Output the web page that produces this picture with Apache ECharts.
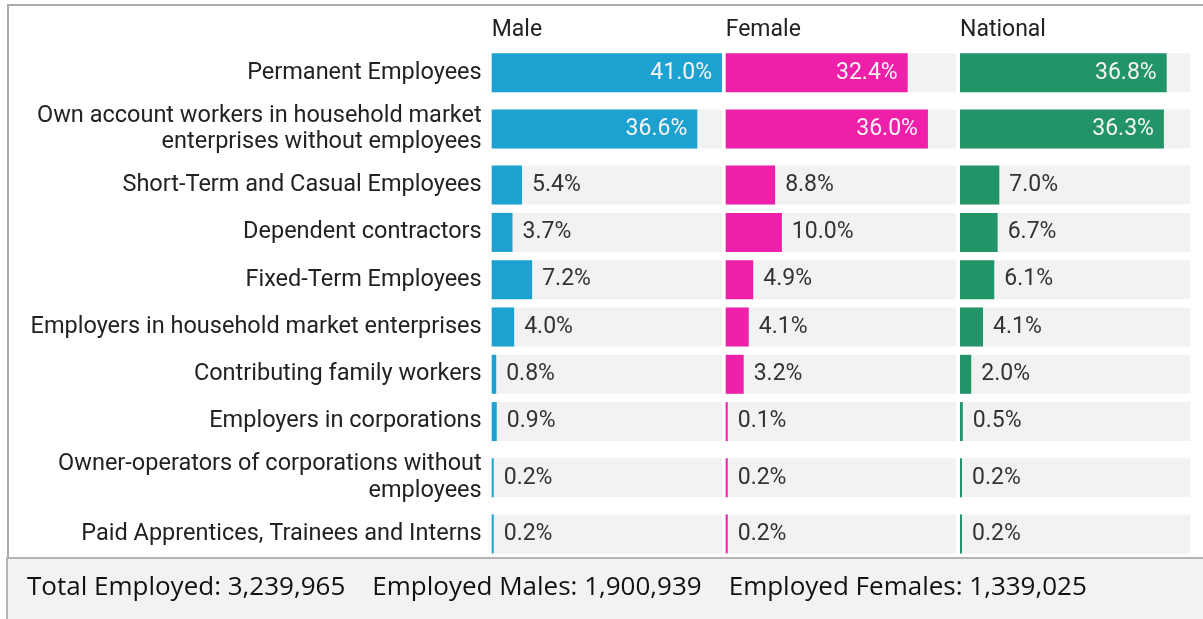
<!DOCTYPE html>
<html>
<head>
<meta charset="utf-8">
<script src="https://cdn.jsdelivr.net/npm/echarts@6/dist/echarts.min.js"></script>
<style>
html,body{margin:0;padding:0;background:#fff;}
#chart{width:1203px;height:619px;}
</style>
</head>
<body>
<div id="chart"></div>
<script>
const categories = [
  'Permanent Employees',
  'Own account workers in household market\nenterprises without employees',
  'Short-Term and Casual Employees',
  'Dependent contractors',
  'Fixed-Term Employees',
  'Employers in household market enterprises',
  'Contributing family workers',
  'Employers in corporations',
  'Owner-operators of corporations without\nemployees',
  'Paid Apprentices, Trainees and Interns'
];
const maleValues = [41.0, 36.6, 5.4, 3.7, 7.2, 4.0, 0.8, 0.9, 0.2, 0.2];
const femaleValues = [32.4, 36.0, 8.8, 10.0, 4.9, 4.1, 3.2, 0.1, 0.2, 0.2];
const nationalValues = [36.8, 36.3, 7.0, 6.7, 6.1, 4.1, 2.0, 0.5, 0.2, 0.2];
const panelNames = ['Male', 'Female', 'National'];
const footerLabels = ['Total Employed', 'Employed Males', 'Employed Females'];
const footerValues = ['3,239,965', '1,900,939', '1,339,025'];
const axisMax = 41;

const panelValues = [maleValues, femaleValues, nationalValues];
const panelColors = ['#1ca1d0', '#ee1fa8', '#239468'];
const panelLeft = [491.7, 725.7, 960];
const panelWidth = 230.3;
const barH = 39;
const singleSlot = 47.3, doubleSlot = 65;
const startY = 49.15;

const grids = [], xAxes = [], yAxes = [], series = [], titles = [];
let cursor = startY;
categories.forEach((cat, r) => {
  const slot = cat.split('\n').length > 1 ? doubleSlot : singleSlot;
  const top = cursor + (slot - barH) / 2;
  cursor += slot;
  panelValues.forEach((vals, p) => {
    const idx = grids.length;
    grids.push({left: panelLeft[p], top: top, width: panelWidth, height: barH, containLabel: false});
    xAxes.push({type: 'value', gridIndex: idx, min: 0, max: axisMax, show: false});
    yAxes.push({
      type: 'category', gridIndex: idx, data: [cat],
      axisLine: {show: false}, axisTick: {show: false}, splitLine: {show: false},
      axisLabel: {
        show: p === 0, fontFamily: 'Roboto', fontSize: 23.5, color: '#222',
        margin: 10, lineHeight: 26.6, align: 'right'
      }
    });
    const v = vals[r];
    const inside = v >= 30;
    series.push({
      type: 'bar', xAxisIndex: idx, yAxisIndex: idx,
      data: [v], barWidth: barH, barMinHeight: 2,
      showBackground: true, backgroundStyle: {color: '#f2f2f2'},
      itemStyle: {color: panelColors[p]},
      silent: true, animation: false,
      label: {
        show: true,
        position: inside ? 'insideRight' : 'right',
        distance: 10,
        formatter: (o) => o.value.toFixed(1) + '%',
        fontFamily: 'Roboto', fontSize: 23,
        color: inside ? '#f4f4f4' : '#333'
      }
    });
  });
});

panelNames.forEach((n, p) => {
  titles.push({
    text: n, left: panelLeft[p], top: 19, padding: 0,
    textStyle: {fontFamily: 'Roboto', fontSize: 23, fontWeight: 'normal', color: '#222'}
  });
});
titles.push({
  text: footerLabels.map((l, i) => l + ': ' + footerValues[i]).join('    '),
  left: 27, top: 575, padding: 0,
  textStyle: {fontFamily: 'Open Sans', fontSize: 26, fontWeight: 'normal', color: '#111'}
});

const chart = echarts.init(document.getElementById('chart'), null, {renderer: 'canvas'});
chart.setOption({
  animation: false,
  backgroundColor: '#ffffff',
  graphic: [
    {type: 'rect', z: -10, shape: {x: 8, y: 5, width: 1210, height: 553}, style: {fill: '#ffffff', stroke: '#aaaaaa', lineWidth: 2}},
    {type: 'rect', z: -10, shape: {x: 7, y: 558, width: 1210, height: 80}, style: {fill: '#f2f2f2', stroke: '#b5b5b5', lineWidth: 2}}
  ],
  title: titles,
  grid: grids,
  xAxis: xAxes,
  yAxis: yAxes,
  series: series
});
</script>
</body>
</html>
